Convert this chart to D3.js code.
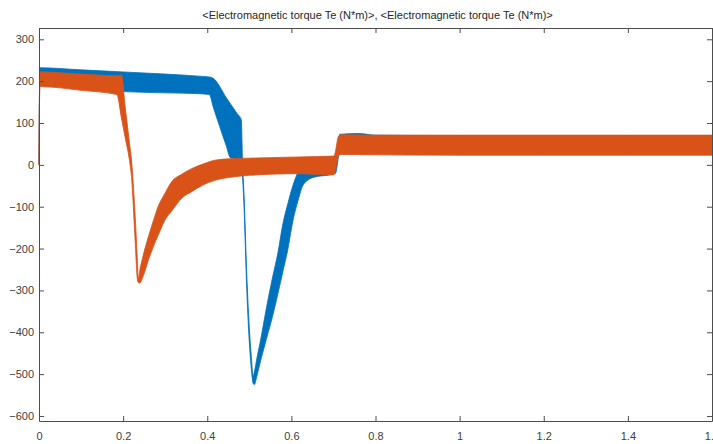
<!DOCTYPE html>
<html>
<head>
<meta charset="utf-8">
<script src="https://cdn.jsdelivr.net/npm/d3@7"></script>
<style>
  body { margin: 0; background: #fff; }
  .chart text { font-family: "Liberation Sans", Arial, sans-serif; }
  .axis path, .axis line { stroke: #4d4d4d; }
  .axis text { fill: #404040; font-size: 11px; }
</style>
</head>
<body>
<div class="chart"></div>
<script>
var width = 713, height = 444;
var padding = { top: 28, right: 1, bottom: 23, left: 39 };

var title = "<Electromagnetic torque Te (N*m)>, <Electromagnetic torque Te (N*m)>";
var xTicks = [0, 0.2, 0.4, 0.6, 0.8, 1, 1.2, 1.4, 1.6];
var yTicks = [300, 200, 100, 0, -100, -200, -300, -400, -500, -600];

// series 1 (blue): time, upper and lower edge of the ripple band
var blueT  = [0, 0.002, 0.1, 0.2, 0.3, 0.38, 0.405, 0.414, 0.445, 0.455, 0.47, 0.481, 0.484, 0.487, 0.494, 0.501, 0.505, 0.509,
              0.512, 0.518, 0.525, 0.541, 0.555, 0.568, 0.58, 0.591, 0.604, 0.616, 0.628, 0.652, 0.7, 0.705, 0.715, 0.76, 0.8, 1.0, 1.2, 1.4, 1.6];
var blueHi = [0, 232, 227, 222, 217, 212, 210, 207, 161, 146, 124, 107, 0, -60, -262, -405, -460, -505,
              -495, -462, -428, -340, -270, -210, -140, -95, -48, -17, -2, 4, 8, 10, 73, 75, 71, 70, 70, 70, 70];
var blueLo = [0, 200, 182, 175, 172, 170, 168, 139, 46, 17, 15, 15, -30, -90, -300, -440, -490, -522,
              -525, -505, -476, -415, -363, -308, -254, -205, -132, -85, -48, -30, -22, -20, 30, 30, 28, 28, 28, 28, 28];

// series 2 (orange)
var orangeT  = [0, 0.002, 0.1, 0.185, 0.196, 0.205, 0.215, 0.22, 0.228, 0.234, 0.236, 0.24, 0.248, 0.26, 0.272, 0.283, 0.3, 0.315,
                0.34, 0.363, 0.39, 0.418, 0.461, 0.5, 0.62, 0.7, 0.703, 0.712, 0.72, 0.8, 1.0, 1.2, 1.4, 1.6];
var orangeHi = [0, 222, 217, 213, 215, 138, 53, 11, -110, -230, -272, -250, -215, -172, -133, -100, -67, -41,
                -22, -9, 2, 11, 15, 16, 19, 21, 25, 68, 72, 71, 71, 71, 71, 71];
var orangeLo = [0, 187, 178, 168, 112, 64, 11, -30, -170, -275, -281, -282, -265, -228, -195, -169, -131, -111,
                -79, -64, -48, -37, -29, -25, -21, -24, -20, 22, 25, 24, 23, 23, 23, 23];

var svg = d3.select(".chart")
  .append("svg")
    .attr("width", width)
    .attr("height", height);

var x_scale = d3.scaleLinear()
  .domain([0, 1.6])
  .range([padding.left, width - padding.right]);

var y_scale = d3.scaleLinear()
  .domain([-612, 327])
  .range([height - padding.bottom, padding.top]);

function band(ts, hi, lo) {
  return ts.map(function(t, i) { return { t: t, hi: hi[i], lo: lo[i] }; });
}

var area = d3.area()
  .curve(d3.curveMonotoneX)
  .x(function(d) { return x_scale(d.t); })
  .y0(function(d) { return y_scale(d.lo); })
  .y1(function(d) { return y_scale(d.hi); });

var series = [
  { name: "blue", color: "#0072BD", data: band(blueT, blueHi, blueLo) },
  { name: "orange", color: "#D95319", data: band(orangeT, orangeHi, orangeLo) }
];

// plot the two bands, orange drawn last (on top)
svg.append("g").attr("class", "plot")
  .selectAll("path")
  .data(series)
  .enter()
  .append("path")
    .attr("d", function(d) { return area(d.data); })
    .attr("fill", function(d) { return d.color; })
    .attr("stroke", function(d) { return d.color; })
    .attr("stroke-width", 0.8)
    .attr("stroke-linejoin", "round");

// axes, MATLAB style box with inward ticks
svg.append("g")
  .attr("class", "axis")
  .attr("transform", "translate(0," + (height - padding.bottom) + ")")
  .call(d3.axisBottom(x_scale).tickValues(xTicks).tickFormat(d3.format("")).tickSizeInner(-5).tickSizeOuter(0).tickPadding(11));

svg.append("g")
  .attr("class", "axis")
  .attr("transform", "translate(0," + padding.top + ")")
  .call(d3.axisTop(x_scale).tickValues(xTicks).tickFormat("").tickSizeInner(-5).tickSizeOuter(0));

svg.append("g")
  .attr("class", "axis")
  .attr("transform", "translate(" + padding.left + ",0)")
  .call(d3.axisLeft(y_scale).tickValues(yTicks).tickSizeInner(-5).tickSizeOuter(0).tickPadding(5));

svg.append("g")
  .attr("class", "axis")
  .attr("transform", "translate(" + (width - padding.right) + ",0)")
  .call(d3.axisRight(y_scale).tickValues(yTicks).tickFormat("").tickSizeInner(-5).tickSizeOuter(0));

svg.append("text")
  .attr("x", (padding.left + width - padding.right) / 2 + 2)
  .attr("y", 19)
  .attr("text-anchor", "middle")
  .attr("fill", "#262626")
  .style("font-size", "11px")
  .text(title);
</script>
</body>
</html>
